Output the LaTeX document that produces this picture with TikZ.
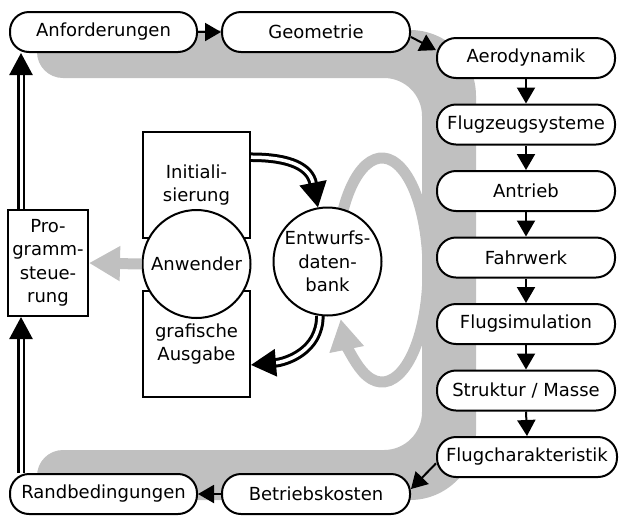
\documentclass[tikz,border=0pt]{standalone}
\usepackage{fontspec}
\setmainfont{DejaVu Sans}
\usetikzlibrary{arrows.meta}

\definecolor{bandgrey}{HTML}{C0C0C0}

\begin{document}
\begin{tikzpicture}[x=1pt,y=-1pt,font=\fontsize{18}{23.5}\selectfont,
  stage/.style={draw,line width=2pt,fill=white,rounded corners=19pt,minimum height=40pt,inner sep=0pt},
  panel/.style={draw,line width=2pt,fill=white,align=center,inner sep=2pt},
  hub/.style={draw,circle,line width=2pt,fill=white,minimum size=108pt,inner sep=0pt,align=center},
  flow/.style={line width=2pt,-{Triangle[length=16pt,width=18pt]}},
  dblflow/.style={line width=2.5pt,double=white,double distance=3pt,-{Triangle[length=22pt,width=23pt]}},
  bigflow/.style={line width=3pt,double=white,double distance=3.5pt,-{Triangle[length=25pt,width=27pt]}},
  greyflow/.style={bandgrey,line width=11pt,-{Triangle[length=31pt,width=33pt]}}]
  \useasboundingbox (0,0) rectangle (620,515);

  % grey band behind the chain of modules
  \fill[bandgrey] (37,30) -- (410,30) arc[start angle=270,end angle=360,radius=66]
    -- (476,434) arc[start angle=0,end angle=90,radius=66]
    -- (37,500) -- (37,476) arc[start angle=180,end angle=270,radius=26]
    -- (384,450) arc[start angle=90,end angle=0,radius=38]
    -- (422,116) arc[start angle=0,end angle=-90,radius=38]
    -- (63,78) arc[start angle=90,end angle=180,radius=26] -- cycle;

  % loop round the database
  \draw[greyflow] ([shift={(382,270)}]205:46 and 112)
    arc[start angle=205,end angle=514,x radius=46,y radius=112];

  \node[panel,minimum width=107pt,minimum height=106pt] (init) at (196.5,185) {Initiali-\\sierung};
  \node[panel,minimum width=107pt,minimum height=106pt] (ausg) at (196.5,344) {grafische\\Ausgabe};
  \node[panel,minimum width=80pt,minimum height=106pt] (prog) at (48,263) {Pro-\\gramm-\\steue-\\rung};
  \node[hub] (anw) at (196.5,264) {Anwender};
  \node[hub] (db) at (327.5,261.5) {Entwurfs-\\daten-\\bank};

  \draw[greyflow] (anw.west) -- (prog.east);
  \draw[bigflow] (init.27) .. controls +(40,0) and +(-8,-40) .. (db.100);
  \draw[bigflow] (db.262) .. controls +(0,35) and +(35,-3) .. (ausg.-21);

  % modules
  \node[stage,minimum width=187pt] (anf) at (103.5,32) {Anforderungen};
  \node[stage,minimum width=188pt] (geo) at (316,32) {Geometrie};
  \node[stage,minimum width=178pt] (aero) at (526,58) {Aerodynamik};
  \node[stage,minimum width=178pt] (flugz) at (526,124.5) {Flugzeugsysteme};
  \node[stage,minimum width=178pt] (antr) at (526,191) {Antrieb};
  \node[stage,minimum width=178pt] (fahrw) at (526,257.5) {Fahrwerk};
  \node[stage,minimum width=178pt] (flugsim) at (526,324) {Flugsimulation};
  \node[stage,minimum width=178pt] (strukt) at (526,390.5) {Struktur / Masse};
  \node[stage,minimum width=180pt] (flugc) at (527,457) {Flugcharakteristik};
  \node[stage,minimum width=188pt] (betr) at (316,494) {Betriebskosten};
  \node[stage,minimum width=187pt] (rand) at (103.5,494) {Randbedingungen};

  \draw[flow] (anf.east) -- (geo.west);
  \draw[flow] (geo.-3) -- (aero.175);
  \foreach \from/\to in {aero/flugz,flugz/antr,antr/fahrw,fahrw/flugsim,flugsim/strukt,strukt/flugc}
    \draw[flow] (\from.south) -- (\to.north);
  \draw[flow] (flugc.184) -- (betr.3);
  \draw[flow] (betr.west) -- (rand.east);

  \coordinate (rail) at (21,0);
  \draw[dblflow] (rand.north -| rail) -- (prog.south -| rail);
  \draw[dblflow] (prog.north -| rail) -- (anf.south -| rail);
\end{tikzpicture}
\end{document}
